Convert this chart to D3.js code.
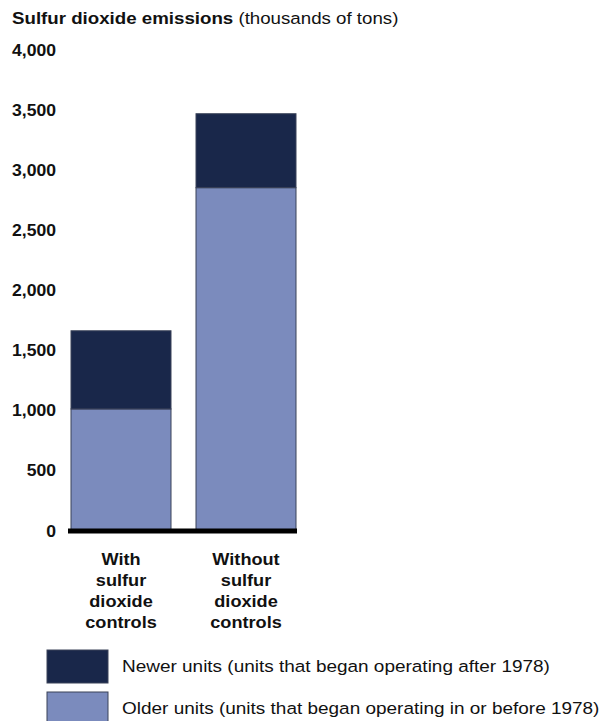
<!DOCTYPE html>
<html><head><meta charset="utf-8">
<script src="https://cdn.jsdelivr.net/npm/d3@7"></script>
<style>body{margin:0;background:#fff}svg{display:block}text{font-family:"Liberation Sans",Arial,sans-serif;fill:#111}</style>
</head><body>
<script>
const categories = [["With","sulfur","dioxide","controls"],["Without","sulfur","dioxide","controls"]];
const olderUnits = [1015, 2855];
const newerUnits = [650, 615];
const yTicks = [0,500,1000,1500,2000,2500,3000,3500,4000];
const seriesNames = ["Newer units (units that began operating after 1978)","Older units (units that began operating in or before 1978)"];
const colors = {newer:"#19274a", older:"#7b8bbd"};

const W=600,H=721,SX=1.1;
const svg=d3.select("body").append("svg").attr("width",W).attr("height",H);
const y=d3.scaleLinear().domain([0,4000]).range([531,50]);
const x=d3.scaleBand().domain([0,1]).range([71,296]).paddingInner(0.2).paddingOuter(0);

function stext(px,py,sx){return svg.append("text").attr("transform",`translate(${px},${py}) scale(${sx||SX},1)`);}

const title=stext(12,24).attr("font-size",17);
title.append("tspan").attr("font-weight","bold").text("Sulfur dioxide emissions ");
title.append("tspan").text("(thousands of tons)");

yTicks.forEach(v=>{
  stext(56,y(v)).attr("text-anchor","end").attr("dy","0.35em").attr("font-size",16).attr("font-weight","bold").text(d3.format(",")(v));
});

const data=categories.map((c,i)=>({i,older:olderUnits[i],newer:newerUnits[i]}));
svg.selectAll("rect.older").data(data).join("rect").attr("class","older")
 .attr("x",d=>x(d.i)).attr("width",x.bandwidth())
 .attr("y",d=>y(d.older)).attr("height",d=>y(0)-y(d.older))
 .attr("fill",colors.older).attr("stroke","#3a4258").attr("stroke-width",1);
svg.selectAll("rect.newer").data(data).join("rect").attr("class","newer")
 .attr("x",d=>x(d.i)).attr("width",x.bandwidth())
 .attr("y",d=>y(d.older+d.newer)).attr("height",d=>y(d.older)-y(d.older+d.newer))
 .attr("fill",colors.newer).attr("stroke","#3a4258").attr("stroke-width",1);

svg.append("line").attr("x1",68).attr("x2",x(1)+x.bandwidth()+1).attr("y1",y(0)).attr("y2",y(0))
 .attr("stroke","#000").attr("stroke-width",5);

categories.forEach((lines,i)=>{
  lines.forEach((l,j)=>stext(x(i)+x.bandwidth()/2,565+j*21).attr("text-anchor","middle").attr("font-size",16.5).attr("font-weight","bold").text(l));
});

const leg=[{n:seriesNames[0],c:colors.newer,y:650},{n:seriesNames[1],c:colors.older,y:692}];
leg.forEach(l=>{
  svg.append("rect").attr("x",47).attr("y",l.y).attr("width",61).attr("height",33).attr("fill",l.c).attr("stroke","#3a4258");
  stext(122,l.y+22,1.15).attr("font-size",16.5).text(l.n);
});
</script>
</body></html>
